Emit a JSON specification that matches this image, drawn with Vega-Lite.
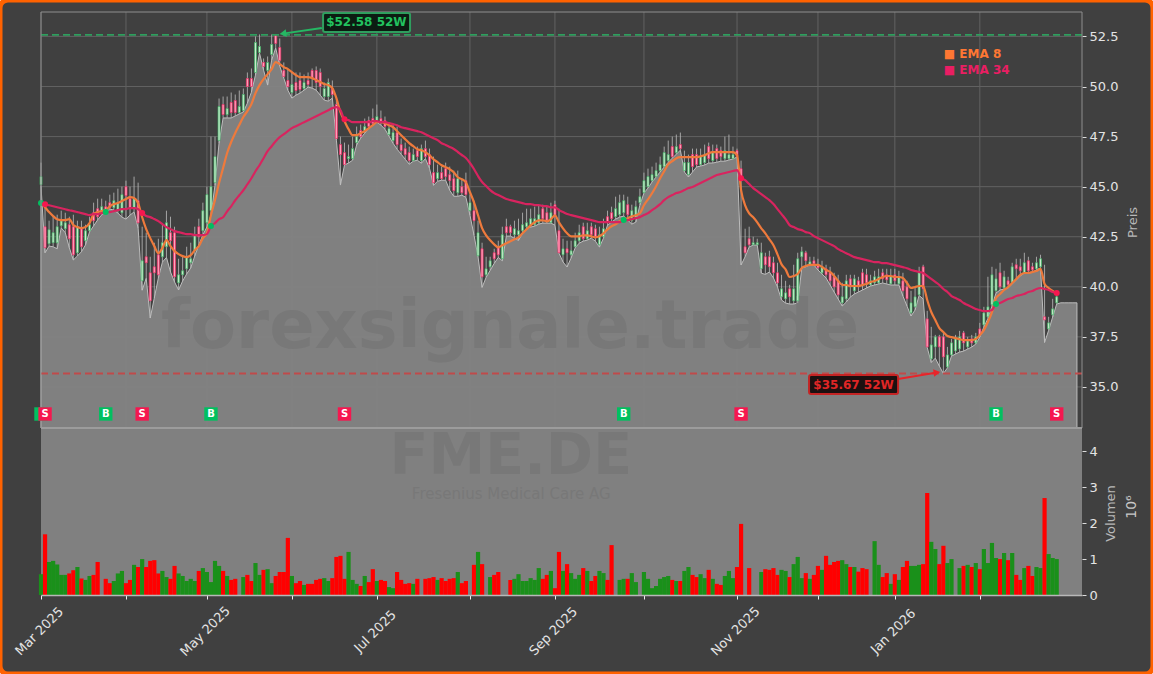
{
"$schema":"https://vega.github.io/schema/vega-lite/v6.json",
"width":1153,"height":674,"autosize":"none","padding":0,"background":"#ffffff",
"config":{"font":"DejaVu Sans","view":{"stroke":"#ff6200","strokeWidth":5,"fill":"#404040","cornerRadius":8}},
"datasets":{
"months":[{"i":0,"m":"Mar 2025"},{"i":21,"m":"Apr 2025"},{"i":41,"m":"May 2025"},{"i":62,"m":"Jun 2025"},{"i":83,"m":"Jul 2025"},{"i":106,"m":"Aug 2025"},{"i":127,"m":"Sep 2025"},{"i":149,"m":"Oct 2025"},{"i":172,"m":"Nov 2025"},{"i":192,"m":"Dec 2025"},{"i":211,"m":"Jan 2026"},{"i":232,"m":"Feb 2026"}],
"levels":[{"p":35,"i":0,"i2":257.25},{"p":37.5,"i":0,"i2":257.25},{"p":40,"i":0,"i2":257.25},{"p":42.5,"i":0,"i2":257.25},{"p":45,"i":0,"i2":257.25},{"p":47.5,"i":0,"i2":257.25},{"p":50,"i":0,"i2":257.25},{"p":52.5,"i":0,"i2":257.25}],
"bars":[
{"i":0,"o":45.1,"h":46.2,"l":45.03,"c":45.5,"v":0.58,"e8":44.17,"e34":44.18,"sig":"B"},
{"i":1,"o":43,"h":44,"l":41.7,"c":41.95,"v":1.69,"e8":43.97,"e34":44.12,"sig":"S"},
{"i":2,"o":42.15,"h":43.3,"l":42.03,"c":42.85,"v":0.92,"e8":43.73,"e34":44.07},
{"i":3,"o":42.2,"h":43.5,"l":42,"c":42.7,"v":0.95,"e8":43.53,"e34":44.02},
{"i":4,"o":42.2,"h":43.6,"l":41.9,"c":43,"v":0.85,"e8":43.37,"e34":43.97},
{"i":5,"o":43.05,"h":43.8,"l":42.94,"c":43.3,"v":0.56,"e8":43.33,"e34":43.92},
{"i":6,"o":42.9,"h":43.7,"l":42.7,"c":43.2,"v":0.56,"e8":43.33,"e34":43.87},
{"i":7,"o":43.1,"h":43.5,"l":41.95,"c":42.4,"v":0.6,"e8":43.38,"e34":43.82},
{"i":8,"o":43,"h":43.6,"l":41.34,"c":41.6,"v":0.69,"e8":43.08,"e34":43.78},
{"i":9,"o":41.7,"h":43.3,"l":41.54,"c":43,"v":0.78,"e8":42.98,"e34":43.73},
{"i":10,"o":42.9,"h":43.3,"l":41.75,"c":42,"v":0.46,"e8":42.93,"e34":43.68},
{"i":11,"o":42.3,"h":43.1,"l":42.09,"c":42.8,"v":0.42,"e8":42.98,"e34":43.63},
{"i":12,"o":42.8,"h":43.5,"l":42.74,"c":43.1,"v":0.53,"e8":43.18,"e34":43.58},
{"i":13,"o":43.7,"h":44.2,"l":43.04,"c":43.3,"v":0.56,"e8":43.62,"e34":43.63},
{"i":14,"o":43.9,"h":44.4,"l":43.34,"c":43.5,"v":0.92,"e8":43.73,"e34":43.63},
{"i":15,"o":43.7,"h":44.4,"l":43.59,"c":44,"e8":43.78,"e34":43.68},
{"i":16,"o":44,"h":44.3,"l":43.74,"c":43.8,"v":0.45,"e8":43.83,"e34":43.73,"sig":"B"},
{"i":17,"o":44.2,"h":44.6,"l":43.88,"c":43.95,"v":0.33,"e8":44.02,"e34":43.73},
{"i":18,"o":43.95,"h":44.7,"l":43.83,"c":44.3,"v":0.39,"e8":44.13,"e34":43.78},
{"i":19,"o":43.8,"h":44.9,"l":43.68,"c":44.2,"v":0.6,"e8":44.18,"e34":43.83},
{"i":20,"o":43.7,"h":45,"l":43.48,"c":44.6,"v":0.67,"e8":44.28,"e34":43.88},
{"i":21,"o":45,"h":45.3,"l":43.38,"c":44.55,"v":0.33,"e8":44.38,"e34":43.88},
{"i":22,"o":44.4,"h":45,"l":43.58,"c":43.9,"v":0.42,"e8":44.48,"e34":43.93},
{"i":23,"o":43.9,"h":45.5,"l":43.74,"c":44.4,"v":0.84,"e8":44.43,"e34":43.93},
{"i":24,"o":44.3,"h":45.2,"l":42.94,"c":43.2,"v":0.78,"e8":44.18,"e34":43.88},
{"i":25,"o":40.3,"h":43,"l":39.83,"c":41.3,"v":1,"e8":43.47,"e34":43.68,"sig":"S"},
{"i":26,"o":41.5,"h":42.7,"l":40.43,"c":41.2,"v":0.78,"e8":42.88,"e34":43.53},
{"i":27,"o":40.7,"h":41.5,"l":38.44,"c":39.3,"v":0.95,"e8":42.43,"e34":43.48},
{"i":28,"o":41,"h":42.2,"l":39.44,"c":40.7,"v":0.97,"e8":42.03,"e34":43.38},
{"i":29,"o":41.6,"h":42.4,"l":40.44,"c":40.6,"v":0.6,"e8":41.68,"e34":43.28},
{"i":30,"o":41.5,"h":43.1,"l":41.23,"c":42.2,"v":0.67,"e8":41.93,"e34":43.13},
{"i":31,"o":42,"h":43.8,"l":41.47,"c":43.2,"v":0.5,"e8":42.33,"e34":42.98},
{"i":32,"o":42.7,"h":43.5,"l":40.74,"c":42.3,"v":0.45,"e8":42.03,"e34":42.88},
{"i":33,"o":42.7,"h":43,"l":40.24,"c":40.5,"v":0.81,"e8":41.78,"e34":42.78},
{"i":34,"o":40.2,"h":41.4,"l":39.84,"c":40.6,"v":0.6,"e8":41.63,"e34":42.73},
{"i":35,"o":40.6,"h":41.5,"l":40.29,"c":40.8,"v":0.53,"e8":41.53,"e34":42.68},
{"i":36,"o":40.9,"h":42,"l":40.64,"c":41.5,"v":0.39,"e8":41.48,"e34":42.63},
{"i":37,"o":41.2,"h":42.2,"l":40.94,"c":41.4,"v":0.45,"e8":41.58,"e34":42.63},
{"i":38,"o":41.8,"h":43,"l":41.54,"c":42.6,"v":0.39,"e8":41.83,"e34":42.58},
{"i":39,"o":43,"h":43.4,"l":42.09,"c":42.5,"v":0.67,"e8":42.03,"e34":42.58},
{"i":40,"o":42.8,"h":44.2,"l":42.59,"c":43.8,"v":0.75,"e8":42.43,"e34":42.58},
{"i":41,"o":43.2,"h":45,"l":42.99,"c":44.6,"v":0.64,"e8":42.68,"e34":42.63},
{"i":42,"o":43.8,"h":47.5,"l":43.57,"c":45,"v":0.36,"e8":43.58,"e34":43.03,"sig":"B"},
{"i":43,"o":45.2,"h":47.5,"l":45.08,"c":46.5,"v":0.95,"e8":44.33,"e34":43.18},
{"i":44,"o":47.3,"h":49.4,"l":47.18,"c":49,"v":0.81,"e8":45.18,"e34":43.38},
{"i":45,"o":49.1,"h":49.5,"l":48.43,"c":48.6,"v":0.67,"e8":45.93,"e34":43.47},
{"i":46,"o":48.6,"h":49.5,"l":48.43,"c":48.9,"v":0.53,"e8":46.68,"e34":43.77},
{"i":47,"o":49.2,"h":49.7,"l":48.43,"c":48.7,"v":0.42,"e8":47.23,"e34":44.02},
{"i":48,"o":49.3,"h":49.6,"l":48.53,"c":48.7,"v":0.45,"e8":47.68,"e34":44.32},
{"i":49,"o":48.7,"h":49.8,"l":48.63,"c":49,"e8":48.08,"e34":44.57},
{"i":50,"o":48.8,"h":49.9,"l":48.73,"c":49.6,"v":0.5,"e8":48.48,"e34":44.82},
{"i":51,"o":50.4,"h":50.7,"l":49.17,"c":50,"v":0.56,"e8":48.77,"e34":45.12},
{"i":52,"o":50.4,"h":50.9,"l":49.72,"c":50,"v":0.39,"e8":49.12,"e34":45.42},
{"i":53,"o":50.7,"h":52.5,"l":50.57,"c":52.2,"v":0.89,"e8":49.67,"e34":45.77},
{"i":54,"o":51.7,"h":52.6,"l":51.67,"c":52,"v":0.56,"e8":50.07,"e34":46.07},
{"i":55,"o":51.2,"h":51.4,"l":50.82,"c":51,"v":0.7,"e8":50.37,"e34":46.42},
{"i":56,"o":50.8,"h":51.5,"l":50.07,"c":51.2,"v":0.72,"e8":50.62,"e34":46.77},
{"i":57,"o":51.6,"h":52.6,"l":51.32,"c":52.1,"v":0.33,"e8":50.87,"e34":47.02},
{"i":58,"o":52.55,"h":52.58,"l":51.92,"c":52.15,"v":0.53,"e8":51.22,"e34":47.27},
{"i":59,"o":51.95,"h":52.4,"l":51.02,"c":51.3,"v":0.64,"e8":51.12,"e34":47.47},
{"i":60,"o":50.8,"h":51.2,"l":50.42,"c":50.5,"v":0.64,"e8":50.97,"e34":47.62},
{"i":61,"o":50.3,"h":50.9,"l":49.82,"c":50,"v":1.59,"e8":50.87,"e34":47.77},
{"i":62,"o":49.7,"h":50.7,"l":49.42,"c":50.1,"v":0.53,"e8":50.72,"e34":47.92},
{"i":63,"o":50.2,"h":50.7,"l":49.57,"c":49.8,"v":0.33,"e8":50.57,"e34":48.02},
{"i":64,"o":50.3,"h":50.7,"l":49.67,"c":49.85,"v":0.39,"e8":50.47,"e34":48.12},
{"i":65,"o":49.9,"h":50.6,"l":49.82,"c":50.2,"v":0.28,"e8":50.47,"e34":48.22},
{"i":66,"o":50.3,"h":50.7,"l":49.97,"c":50.1,"v":0.31,"e8":50.47,"e34":48.32},
{"i":67,"o":50.8,"h":50.9,"l":49.92,"c":50.4,"v":0.31,"e8":50.42,"e34":48.42},
{"i":68,"o":50.8,"h":51,"l":49.82,"c":50.2,"v":0.42,"e8":50.32,"e34":48.52},
{"i":69,"o":50.7,"h":50.9,"l":49.57,"c":50,"v":0.45,"e8":50.22,"e34":48.62},
{"i":70,"o":49.5,"h":50.2,"l":49.32,"c":49.9,"v":0.47,"e8":50.12,"e34":48.72},
{"i":71,"o":49.5,"h":50.4,"l":49.27,"c":50.2,"v":0.39,"e8":50.07,"e34":48.82},
{"i":72,"o":49.9,"h":50.3,"l":49.42,"c":49.6,"v":0.47,"e8":49.92,"e34":48.92},
{"i":73,"o":49.1,"h":49.5,"l":47.32,"c":47.4,"v":1.06,"e8":49.42,"e34":48.97},
{"i":74,"o":47.1,"h":47.5,"l":45.08,"c":46.6,"v":1.09,"e8":48.72,"e34":48.82},
{"i":75,"o":46.7,"h":47.2,"l":46.08,"c":46.1,"v":0.45,"e8":48.27,"e34":48.37,"sig":"S"},
{"i":76,"o":46.4,"h":47.1,"l":46.18,"c":46.5,"v":1.2,"e8":47.87,"e34":48.32},
{"i":77,"o":46.4,"h":47.5,"l":46.32,"c":46.9,"v":0.42,"e8":47.57,"e34":48.22},
{"i":78,"o":47.2,"h":48,"l":47.08,"c":47.5,"v":0.31,"e8":47.57,"e34":48.22},
{"i":79,"o":47.8,"h":48.1,"l":47.42,"c":47.5,"v":0.25,"e8":47.67,"e34":48.22},
{"i":80,"o":47.8,"h":48.4,"l":47.67,"c":48,"v":0.53,"e8":47.77,"e34":48.22},
{"i":81,"o":48.3,"h":48.5,"l":47.92,"c":48,"v":0.36,"e8":47.92,"e34":48.22},
{"i":82,"o":48.4,"h":48.9,"l":48.07,"c":48.15,"v":0.72,"e8":48.07,"e34":48.27},
{"i":83,"o":48.3,"h":49.1,"l":48.22,"c":48.5,"v":0.39,"e8":48.22,"e34":48.27},
{"i":84,"o":48.4,"h":48.8,"l":48.07,"c":48.2,"v":0.42,"e8":48.22,"e34":48.22},
{"i":85,"o":48.3,"h":48.5,"l":47.87,"c":48,"v":0.39,"e8":48.17,"e34":48.22},
{"i":86,"o":47.6,"h":48.2,"l":47.52,"c":47.9,"v":0.22,"e8":48.07,"e34":48.17},
{"i":87,"o":47.3,"h":48.1,"l":47.17,"c":47.7,"v":0.19,"e8":47.97,"e34":48.12},
{"i":88,"o":47.7,"h":48,"l":46.87,"c":47.1,"v":0.64,"e8":47.77,"e34":48.07},
{"i":89,"o":47.1,"h":47.4,"l":46.62,"c":46.8,"v":0.42,"e8":47.57,"e34":47.97},
{"i":90,"o":46.9,"h":47.2,"l":46.37,"c":46.6,"v":0.31,"e8":47.37,"e34":47.92},
{"i":91,"o":46.7,"h":47,"l":46.12,"c":46.3,"v":0.33,"e8":47.17,"e34":47.87},
{"i":92,"o":46.3,"h":46.9,"l":46.27,"c":46.6,"v":0.31,"e8":47.02,"e34":47.82},
{"i":93,"o":46.8,"h":47,"l":46.32,"c":46.5,"v":0.45,"e8":46.87,"e34":47.77},
{"i":94,"o":46.3,"h":47.1,"l":46.17,"c":46.9,"e8":46.82,"e34":47.72},
{"i":95,"o":46.9,"h":47.3,"l":46.4,"c":46.5,"v":0.45,"e8":46.72,"e34":47.62},
{"i":96,"o":46.6,"h":46.9,"l":45.92,"c":46.1,"v":0.47,"e8":46.57,"e34":47.52},
{"i":97,"o":45.7,"h":46.5,"l":45.07,"c":45.2,"v":0.5,"e8":46.37,"e34":47.42},
{"i":98,"o":45.4,"h":46.1,"l":45.27,"c":45.7,"v":0.42,"e8":46.22,"e34":47.32},
{"i":99,"o":45.7,"h":46,"l":45.32,"c":45.4,"v":0.47,"e8":46.07,"e34":47.17},
{"i":100,"o":45.9,"h":46.2,"l":45.32,"c":45.5,"v":0.39,"e8":45.97,"e34":47.08},
{"i":101,"o":45.6,"h":46,"l":44.82,"c":45.3,"v":0.45,"e8":45.87,"e34":46.98},
{"i":102,"o":45.4,"h":45.8,"l":44.52,"c":44.8,"v":0.47,"e8":45.72,"e34":46.88},
{"i":103,"o":44.7,"h":45.8,"l":44.52,"c":45.4,"v":0.64,"e8":45.47,"e34":46.73},
{"i":104,"o":45,"h":45.4,"l":44.57,"c":44.7,"v":0.33,"e8":45.37,"e34":46.58},
{"i":105,"o":45.3,"h":45.7,"l":44.47,"c":44.6,"v":0.39,"e8":45.22,"e34":46.43},
{"i":106,"o":43.8,"h":44.6,"l":43.58,"c":44.2,"e8":44.72,"e34":46.18},
{"i":107,"o":43.8,"h":44.3,"l":42.58,"c":43.3,"v":0.84,"e8":44.22,"e34":45.88},
{"i":108,"o":41.55,"h":43.3,"l":41.5,"c":42.7,"v":1.2,"e8":43.57,"e34":45.53},
{"i":109,"o":41.9,"h":42.2,"l":39.97,"c":40.5,"v":0.86,"e8":42.93,"e34":45.23},
{"i":110,"o":40.6,"h":41.5,"l":40.47,"c":40.9,"e8":42.57,"e34":45.03},
{"i":111,"o":41,"h":41.5,"l":40.82,"c":41.3,"v":0.5,"e8":42.32,"e34":44.83},
{"i":112,"o":41.7,"h":41.9,"l":41.17,"c":41.4,"v":0.56,"e8":42.12,"e34":44.68},
{"i":113,"o":42,"h":42.3,"l":41.47,"c":41.6,"v":0.64,"e8":41.97,"e34":44.58},
{"i":114,"o":41.4,"h":43,"l":41.3,"c":42.6,"e8":42.07,"e34":44.48},
{"i":115,"o":43,"h":43.4,"l":42.53,"c":42.7,"e8":42.17,"e34":44.38},
{"i":116,"o":43,"h":43.1,"l":42.53,"c":42.7,"v":0.42,"e8":42.27,"e34":44.33},
{"i":117,"o":42.6,"h":43.3,"l":42.42,"c":42.9,"v":0.45,"e8":42.37,"e34":44.28},
{"i":118,"o":42.6,"h":43.4,"l":42.32,"c":42.8,"v":0.58,"e8":42.47,"e34":44.23},
{"i":119,"o":42.8,"h":43.7,"l":42.67,"c":43.1,"v":0.39,"e8":42.67,"e34":44.18},
{"i":120,"o":43,"h":43.9,"l":42.93,"c":43.2,"v":0.39,"e8":42.87,"e34":44.13},
{"i":121,"o":43.1,"h":43.9,"l":42.98,"c":43.4,"v":0.47,"e8":43.07,"e34":44.13},
{"i":122,"o":43.1,"h":44,"l":43.03,"c":43.4,"v":0.42,"e8":43.22,"e34":44.08},
{"i":123,"o":43.2,"h":44.1,"l":43.13,"c":43.6,"v":0.75,"e8":43.32,"e34":44.08},
{"i":124,"o":43.9,"h":44.1,"l":43.18,"c":43.4,"v":0.45,"e8":43.32,"e34":44.03},
{"i":125,"o":43.7,"h":44,"l":43.18,"c":43.3,"v":0.56,"e8":43.27,"e34":44.03},
{"i":126,"o":43.2,"h":44.2,"l":43.18,"c":43.7,"v":0.67,"e8":43.37,"e34":43.97},
{"i":127,"o":44.1,"h":44.3,"l":43.08,"c":43.5,"v":0.19,"e8":43.57,"e34":43.97},
{"i":128,"o":42.8,"h":43.9,"l":41.68,"c":41.7,"v":1.2,"e8":43.22,"e34":43.83},
{"i":129,"o":41.6,"h":42.4,"l":41.24,"c":41.9,"v":0.67,"e8":42.92,"e34":43.73},
{"i":130,"o":41.9,"h":42.3,"l":40.99,"c":41.7,"v":0.86,"e8":42.67,"e34":43.63},
{"i":131,"o":41.6,"h":42.3,"l":41.44,"c":41.8,"v":0.61,"e8":42.52,"e34":43.58},
{"i":132,"o":42,"h":42.7,"l":41.94,"c":42.3,"v":0.45,"e8":42.52,"e34":43.53},
{"i":133,"o":42.3,"h":43.1,"l":42.18,"c":42.7,"v":0.56,"e8":42.52,"e34":43.48},
{"i":134,"o":43,"h":43.2,"l":42.28,"c":42.4,"v":0.75,"e8":42.57,"e34":43.43},
{"i":135,"o":42.4,"h":43.2,"l":42.33,"c":42.8,"v":0.67,"e8":42.57,"e34":43.38},
{"i":136,"o":43,"h":43.2,"l":42.43,"c":42.6,"v":0.39,"e8":42.52,"e34":43.33},
{"i":137,"o":42.9,"h":43.1,"l":42.28,"c":42.5,"v":0.53,"e8":42.47,"e34":43.28},
{"i":138,"o":42.1,"h":43,"l":41.98,"c":42.6,"v":0.67,"e8":42.52,"e34":43.23},
{"i":139,"o":42.5,"h":43.4,"l":42.43,"c":42.9,"v":0.61,"e8":42.67,"e34":43.23},
{"i":140,"o":43.5,"h":43.8,"l":43.08,"c":43.2,"v":0.42,"e8":42.87,"e34":43.23},
{"i":141,"o":43.7,"h":44,"l":43.23,"c":43.4,"v":1.39,"e8":43.02,"e34":43.23},
{"i":142,"o":43.5,"h":44.5,"l":43.38,"c":43.9,"e8":43.12,"e34":43.23},
{"i":143,"o":43.6,"h":44.6,"l":43.48,"c":44.2,"v":0.42,"e8":43.27,"e34":43.23},
{"i":144,"o":43.7,"h":44.6,"l":43.53,"c":44.3,"v":0.45,"e8":43.37,"e34":43.33,"sig":"B"},
{"i":145,"o":44.1,"h":44.5,"l":43.33,"c":43.6,"v":0.45,"e8":43.42,"e34":43.33},
{"i":146,"o":43.3,"h":44.1,"l":43.13,"c":43.8,"v":0.61,"e8":43.52,"e34":43.38},
{"i":147,"o":43.4,"h":44.3,"l":43.23,"c":44,"v":0.36,"e8":43.57,"e34":43.43},
{"i":148,"o":44.2,"h":44.9,"l":44.08,"c":44.5,"e8":43.67,"e34":43.48},
{"i":149,"o":44.7,"h":45.7,"l":44.68,"c":45.3,"v":0.64,"e8":44.07,"e34":43.58},
{"i":150,"o":45,"h":45.9,"l":44.93,"c":45.5,"v":0.45,"e8":44.37,"e34":43.68},
{"i":151,"o":45.3,"h":46,"l":45.23,"c":45.6,"v":0.19,"e8":44.67,"e34":43.83},
{"i":152,"o":45.5,"h":46.2,"l":45.48,"c":45.8,"v":0.25,"e8":45.02,"e34":43.97},
{"i":153,"o":45.8,"h":46.5,"l":45.73,"c":46.1,"v":0.45,"e8":45.42,"e34":44.13},
{"i":154,"o":46,"h":47,"l":45.98,"c":46.7,"v":0.5,"e8":45.77,"e34":44.33},
{"i":155,"o":46.3,"h":47.3,"l":46.22,"c":46.6,"v":0.53,"e8":46.12,"e34":44.48},
{"i":156,"o":47,"h":47.5,"l":46.42,"c":46.5,"v":0.42,"e8":46.27,"e34":44.58},
{"i":157,"o":46.7,"h":47.6,"l":46.62,"c":47,"v":0.39,"e8":46.42,"e34":44.68},
{"i":158,"o":47.1,"h":47.7,"l":46.82,"c":46.9,"v":0.39,"e8":46.47,"e34":44.73},
{"i":159,"o":45.8,"h":46.8,"l":45.73,"c":46.2,"v":0.67,"e8":46.47,"e34":44.83},
{"i":160,"o":45.6,"h":46.6,"l":45.48,"c":46.2,"v":0.78,"e8":46.47,"e34":44.93},
{"i":161,"o":46.6,"h":46.9,"l":45.73,"c":46,"v":0.56,"e8":46.47,"e34":44.98},
{"i":162,"o":46.6,"h":46.9,"l":45.98,"c":46.1,"v":0.5,"e8":46.47,"e34":45.08},
{"i":163,"o":46.1,"h":46.9,"l":46.03,"c":46.5,"v":0.58,"e8":46.52,"e34":45.18},
{"i":164,"o":46.2,"h":47.1,"l":46.08,"c":46.6,"v":0.47,"e8":46.57,"e34":45.28},
{"i":165,"o":47,"h":47.2,"l":46.18,"c":46.4,"v":0.7,"e8":46.67,"e34":45.38},
{"i":166,"o":46.3,"h":47.1,"l":46.18,"c":46.7,"v":0.45,"e8":46.72,"e34":45.48},
{"i":167,"o":46.9,"h":47.1,"l":46.22,"c":46.4,"v":0.31,"e8":46.72,"e34":45.58},
{"i":168,"o":46.8,"h":47,"l":46.27,"c":46.5,"v":0.28,"e8":46.72,"e34":45.63},
{"i":169,"o":46.4,"h":47.5,"l":46.27,"c":46.8,"v":0.53,"e8":46.72,"e34":45.68},
{"i":170,"o":46.4,"h":47.6,"l":46.33,"c":46.6,"v":0.67,"e8":46.72,"e34":45.73},
{"i":171,"o":46.4,"h":47,"l":46.38,"c":46.6,"v":0.47,"e8":46.72,"e34":45.78},
{"i":172,"o":46.8,"h":46.9,"l":46.48,"c":46.5,"v":0.78,"e8":46.57,"e34":45.83},
{"i":173,"o":45.9,"h":46.3,"l":41.09,"c":45.3,"v":1.98,"e8":44.83,"e34":45.42,"sig":"S"},
{"i":174,"o":42,"h":42.9,"l":41.5,"c":41.7,"e8":44.07,"e34":45.33},
{"i":175,"o":42.4,"h":43,"l":41.99,"c":42.1,"v":0.75,"e8":43.67,"e34":45.13},
{"i":176,"o":42.1,"h":42.5,"l":42.08,"c":42.2,"e8":43.47,"e34":44.93},
{"i":177,"o":42.1,"h":42.4,"l":42.08,"c":42.2,"e8":43.22,"e34":44.78},
{"i":178,"o":40.9,"h":42.2,"l":40.68,"c":41.7,"v":0.64,"e8":42.92,"e34":44.63},
{"i":179,"o":41.5,"h":41.7,"l":40.62,"c":41.1,"v":0.72,"e8":42.67,"e34":44.48},
{"i":180,"o":41.5,"h":41.8,"l":40.74,"c":41,"v":0.7,"e8":42.37,"e34":44.33},
{"i":181,"o":41.2,"h":41.5,"l":40.44,"c":40.7,"v":0.75,"e8":42.07,"e34":44.13},
{"i":182,"o":40.7,"h":41.2,"l":39.99,"c":40.2,"v":0.56,"e8":41.62,"e34":43.88},
{"i":183,"o":39.5,"h":40.6,"l":39.34,"c":39.9,"v":0.7,"e8":41.12,"e34":43.63},
{"i":184,"o":39.4,"h":40.3,"l":39.19,"c":39.7,"v":0.67,"e8":40.87,"e34":43.38},
{"i":185,"o":39.9,"h":40.1,"l":39.14,"c":39.5,"v":0.5,"e8":40.49,"e34":43.08},
{"i":186,"o":39.3,"h":41.1,"l":39.14,"c":39.9,"v":0.86,"e8":40.54,"e34":42.98},
{"i":187,"o":39.3,"h":41.7,"l":39.2,"c":41.4,"v":1.06,"e8":40.64,"e34":42.88},
{"i":188,"o":41.5,"h":42,"l":40.94,"c":41.75,"v":0.47,"e8":40.94,"e34":42.83},
{"i":189,"o":41.7,"h":41.8,"l":41,"c":41.3,"v":0.61,"e8":41.04,"e34":42.73},
{"i":190,"o":41.1,"h":41.5,"l":41.09,"c":41.25,"v":0.45,"e8":41.09,"e34":42.68},
{"i":191,"o":41.3,"h":41.5,"l":41.09,"c":41.15,"v":0.56,"e8":41.09,"e34":42.53},
{"i":192,"o":41.1,"h":41.4,"l":40.84,"c":40.95,"v":0.81,"e8":41.09,"e34":42.43},
{"i":193,"o":40.7,"h":41.3,"l":40.64,"c":41,"v":0.7,"e8":40.99,"e34":42.33},
{"i":194,"o":40.9,"h":41.1,"l":40.44,"c":40.6,"v":1.09,"e8":40.84,"e34":42.23},
{"i":195,"o":40.7,"h":41,"l":40.09,"c":40.3,"v":0.84,"e8":40.74,"e34":42.13},
{"i":196,"o":40.5,"h":40.7,"l":39.74,"c":40,"v":0.92,"e8":40.54,"e34":42.03},
{"i":197,"o":40.3,"h":40.6,"l":39.39,"c":39.6,"v":0.95,"e8":40.29,"e34":41.88},
{"i":198,"o":39.2,"h":40.2,"l":39.04,"c":39.5,"v":0.97,"e8":40.09,"e34":41.78},
{"i":199,"o":39.4,"h":40.6,"l":39.24,"c":40.3,"v":0.86,"e8":40.09,"e34":41.67},
{"i":200,"o":40.4,"h":40.6,"l":39.49,"c":40,"v":0.78,"e8":40.04,"e34":41.58},
{"i":201,"o":39.8,"h":40.6,"l":39.64,"c":40.4,"v":0.78,"e8":40.04,"e34":41.48},
{"i":202,"o":40.3,"h":40.5,"l":39.74,"c":40,"v":0.65,"e8":40.04,"e34":41.43},
{"i":203,"o":40.7,"h":40.9,"l":39.84,"c":40.1,"v":0.75,"e8":40.09,"e34":41.38},
{"i":204,"o":40.6,"h":40.9,"l":39.94,"c":40.2,"v":0.72,"e8":40.14,"e34":41.33},
{"i":205,"o":40.1,"h":40.6,"l":40.04,"c":40.3,"e8":40.24,"e34":41.28},
{"i":206,"o":40.2,"h":40.8,"l":40.09,"c":40.5,"v":1.5,"e8":40.29,"e34":41.23},
{"i":207,"o":40.2,"h":40.9,"l":40.14,"c":40.5,"v":0.84,"e8":40.39,"e34":41.23},
{"i":208,"o":40.7,"h":40.9,"l":40.19,"c":40.4,"v":0.5,"e8":40.49,"e34":41.18},
{"i":209,"o":40.6,"h":40.9,"l":40.14,"c":40.35,"v":0.61,"e8":40.54,"e34":41.18},
{"i":210,"o":40.15,"h":40.9,"l":40.09,"c":40.5,"v":0.31,"e8":40.54,"e34":41.13},
{"i":211,"o":40.6,"h":40.9,"l":40.09,"c":40.3,"v":0.58,"e8":40.49,"e34":41.08},
{"i":212,"o":40.15,"h":40.8,"l":40.09,"c":40.5,"v":0.42,"e8":40.49,"e34":41.03},
{"i":213,"o":40.3,"h":40.7,"l":39.54,"c":39.8,"v":0.78,"e8":40.44,"e34":40.98},
{"i":214,"o":40,"h":40.3,"l":39.04,"c":39.4,"v":0.95,"e8":40.19,"e34":40.93},
{"i":215,"o":38.7,"h":39.8,"l":38.54,"c":39.2,"v":0.81,"e8":39.94,"e34":40.84},
{"i":216,"o":39,"h":40,"l":38.84,"c":39.5,"v":0.81,"e8":39.99,"e34":40.79},
{"i":217,"o":39.6,"h":41,"l":39.57,"c":40.7,"v":0.84,"e8":40.04,"e34":40.74},
{"i":218,"o":41,"h":41.1,"l":39.39,"c":39.9,"v":0.86,"e8":40.04,"e34":40.69},
{"i":219,"o":38.4,"h":38.8,"l":36.97,"c":37,"v":2.84,"e8":39.34,"e34":40.54},
{"i":220,"o":36.4,"h":38,"l":36.22,"c":37.1,"v":1.48,"e8":38.74,"e34":40.39},
{"i":221,"o":37,"h":37.6,"l":36.44,"c":37.5,"v":1.28,"e8":38.34,"e34":40.24},
{"i":222,"o":37.5,"h":37.6,"l":36.04,"c":37,"v":0.86,"e8":37.94,"e34":40.09},
{"i":223,"o":37.5,"h":37.7,"l":35.67,"c":36.5,"v":1.37,"e8":37.74,"e34":39.89},
{"i":224,"o":36,"h":37,"l":35.95,"c":36.6,"v":0.89,"e8":37.54,"e34":39.74},
{"i":225,"o":36.6,"h":37.4,"l":36.54,"c":37.2,"v":1,"e8":37.49,"e34":39.54},
{"i":226,"o":36.8,"h":37.6,"l":36.64,"c":37.4,"e8":37.44,"e34":39.44},
{"i":227,"o":36.9,"h":37.8,"l":36.74,"c":37.5,"v":0.75,"e8":37.39,"e34":39.34},
{"i":228,"o":37.7,"h":37.8,"l":36.79,"c":37.2,"v":0.81,"e8":37.34,"e34":39.19},
{"i":229,"o":37,"h":37.5,"l":36.89,"c":37.3,"v":0.84,"e8":37.34,"e34":39.09},
{"i":230,"o":37.4,"h":37.6,"l":36.99,"c":37.2,"v":0.78,"e8":37.34,"e34":38.99},
{"i":231,"o":37.2,"h":37.7,"l":37.14,"c":37.5,"v":0.89,"e8":37.39,"e34":38.89},
{"i":232,"o":37.9,"h":38.2,"l":37.49,"c":37.6,"v":0.72,"e8":37.59,"e34":38.84},
{"i":233,"o":38.1,"h":39,"l":37.99,"c":38.7,"v":1.28,"e8":37.84,"e34":38.79},
{"i":234,"o":38.5,"h":40.5,"l":38.42,"c":39,"v":0.89,"e8":38.24,"e34":38.79},
{"i":235,"o":39.1,"h":41,"l":39.04,"c":40.6,"v":1.45,"e8":38.74,"e34":38.84},
{"i":236,"o":39.8,"h":40.9,"l":39.69,"c":40.4,"v":1.03,"e8":39.44,"e34":39.14,"sig":"B"},
{"i":237,"o":40.7,"h":41.2,"l":39.84,"c":40,"v":1,"e8":39.64,"e34":39.19},
{"i":238,"o":39.95,"h":40.8,"l":39.89,"c":40.5,"v":1.17,"e8":39.84,"e34":39.29},
{"i":239,"o":40.3,"h":40.5,"l":39.94,"c":40.1,"v":0.97,"e8":39.99,"e34":39.39},
{"i":240,"o":40.2,"h":41.2,"l":40.14,"c":41,"v":1.17,"e8":40.19,"e34":39.44},
{"i":241,"o":41.1,"h":41.4,"l":40.34,"c":40.9,"v":0.56,"e8":40.39,"e34":39.54},
{"i":242,"o":41,"h":41.4,"l":40.54,"c":40.8,"v":0.42,"e8":40.59,"e34":39.59},
{"i":243,"o":40.7,"h":41.7,"l":40.69,"c":41.2,"v":0.75,"e8":40.69,"e34":39.64},
{"i":244,"o":41.3,"h":41.5,"l":40.69,"c":40.8,"v":0.81,"e8":40.69,"e34":39.74},
{"i":245,"o":41,"h":41.2,"l":40.74,"c":40.85,"v":0.53,"e8":40.74,"e34":39.79},
{"i":246,"o":40.9,"h":41.5,"l":40.84,"c":41.2,"v":0.78,"e8":40.79,"e34":39.89},
{"i":247,"o":41,"h":41.6,"l":40.94,"c":41.4,"v":0.75,"e8":40.89,"e34":39.94},
{"i":248,"o":38.5,"h":41.1,"l":37.22,"c":38.35,"v":2.7,"e8":40.14,"e34":39.89},
{"i":249,"o":37.9,"h":38.5,"l":37.82,"c":38.2,"v":1.14,"e8":39.94,"e34":39.84},
{"i":250,"o":38.6,"h":39.4,"l":38.49,"c":38.9,"v":1.03,"e8":39.79,"e34":39.74},
{"i":251,"o":39.2,"h":39.8,"l":39.14,"c":39.5,"v":1,"e8":39.69,"e34":39.69,"sig":"S"},
{"i":252,"l":39.2},{"i":253,"l":39.2},{"i":254,"l":39.2},{"i":255,"l":39.2},{"i":256,"l":39.2}
]},
"encoding":{"x":{"field":"i","type":"quantitative","title":null,
"scale":{"domain":[0,257.25],"range":[41,1082],"nice":false,"zero":false,"padding":0},
"axis":{"orient":"bottom","offset":-79,"zindex":1,"grid":false,"title":null,"values":[0,21,41,62,83,106,127,149,172,192,211,232],
"labelExpr":"datum.value==0?'Mar 2025':datum.value==41?'May 2025':datum.value==83?'Jul 2025':datum.value==127?'Sep 2025':datum.value==172?'Nov 2025':datum.value==211?'Jan 2026':''",
"labelAngle":-45,"labelAlign":"center","labelBaseline":"middle","labelPadding":32,"labelOffset":-2,"labelFontSize":13,"labelColor":"#e4e4e4","labelOverlap":false,"labelBound":false,"labelFlush":false,
"tickColor":"#eeeeee","tickSize":4,"domainColor":"#b8b8b8","domainWidth":1.5}}},
"resolve":{"scale":{"y":"independent"},"axis":{"y":"independent"}},
"layer":[
{"layer":[
{"data":{"name":"levels"},"mark":{"type":"rule","stroke":"#616161","strokeWidth":1},
"encoding":{"x2":{"field":"i2"},
"y":{"field":"p","type":"quantitative","scale":{"domain":[32.95,53.72],"range":[428,12],"nice":false,"zero":false},
"axis":{"orient":"right","offset":-71,"values":[35,37.5,40,42.5,45,47.5,50,52.5],"format":".1f","grid":false,"domain":false,"tickColor":"#dddddd","tickSize":4,"labelColor":"#e4e4e4","labelFontSize":13,"labelPadding":3,"title":"Preis","titleColor":"#b8b8b8","titleFontSize":13,"titleFontWeight":"normal","titleAngle":270,"titleX":57,"titleY":222}}}},
{"data":{"name":"months"},"mark":{"type":"rule","stroke":"#616161","strokeWidth":1},
"encoding":{"y":{"datum":32.95,"type":"quantitative"},"y2":{"datum":53.72}}},
{"data":{"name":"bars"},"mark":{"type":"area","fill":"#838383","fillOpacity":0.96,"stroke":"#bdbdbd","strokeWidth":1},
"encoding":{"y":{"field":"l","type":"quantitative"},"y2":{"datum":32.95}}},
{"data":{"values":[{"t":"forexsignale.trade","i":115.9}]},"mark":{"type":"text","fontSize":67,"fontWeight":"bold","fill":"#787878"},
"encoding":{"y":{"datum":37.95,"type":"quantitative"},"text":{"field":"t"}}},
{"data":{"name":"bars"},"transform":[{"filter":"isValid(datum.o)"}],"mark":{"type":"rule","stroke":"#bebebe","strokeWidth":0.8},
"encoding":{"y":{"field":"h","type":"quantitative"},"y2":{"field":"l"}}},
{"data":{"name":"bars"},"transform":[{"filter":"isValid(datum.o)"}],"mark":{"type":"bar","size":2,"strokeWidth":0.7,"orient":"vertical"},
"encoding":{"y":{"field":"o","type":"quantitative"},"y2":{"field":"c"},
"fill":{"condition":{"test":"datum.c>=datum.o","value":"#cdeccf"},"value":"#ffa9c0"},
"stroke":{"condition":{"test":"datum.c>=datum.o","value":"#3fb565"},"value":"#f02a64"}}},
{"data":{"name":"bars"},"mark":{"type":"line","stroke":"#ee7a3c","strokeWidth":2.2,"interpolate":"monotone"},
"encoding":{"y":{"field":"e8","type":"quantitative"}}},
{"data":{"name":"bars"},"mark":{"type":"line","stroke":"#d8245f","strokeWidth":2.2,"interpolate":"monotone"},
"encoding":{"y":{"field":"e34","type":"quantitative"}}},
{"data":{"name":"bars"},"transform":[{"filter":"isValid(datum.sig)"}],"mark":{"type":"circle","size":36,"opacity":1},
"encoding":{"y":{"field":"e34","type":"quantitative"},"color":{"condition":{"test":"datum.sig=='B'","value":"#00c060"},"value":"#f5174f"}}},
{"data":{"values":[{"p":52.58,"k":"hoch","i":0,"i2":257.25},{"p":35.67,"k":"tief","i":0,"i2":257.25}]},"mark":{"type":"rule","strokeWidth":1.8,"strokeDash":[7,4]},
"encoding":{"x2":{"field":"i2"},"y":{"field":"p","type":"quantitative"},
"color":{"field":"k","type":"nominal","legend":null,"scale":{"domain":["hoch","tief"],"range":["#2f9e5e","#c04a4a"]}}}},
{"data":{"values":[{"i":0,"i2":257.25}]},"mark":{"type":"rect","fill":"transparent","stroke":"#8e8e8e","strokeWidth":1},
"encoding":{"x2":{"field":"i2"},"y":{"datum":32.95,"type":"quantitative"},"y2":{"datum":53.72}}},
{"data":{"name":"bars"},"transform":[{"filter":"isValid(datum.sig)"}],"mark":{"type":"square","size":180,"opacity":1},
"encoding":{"y":{"datum":33.65,"type":"quantitative"},"color":{"condition":{"test":"datum.sig=='B'","value":"#00c060"},"value":"#f5174f"}}},
{"data":{"name":"bars"},"transform":[{"filter":"isValid(datum.sig)&&datum.i>0"}],"mark":{"type":"text","fontSize":10,"fontWeight":"bold","fill":"#ffffff"},
"encoding":{"y":{"datum":33.65,"type":"quantitative"},"text":{"field":"sig"}}},
{"data":{"values":[{"i":69.4,"b":52.92,"i2":59.8,"b2":52.64},{"i":211.8,"b":35.4,"i2":221.4,"b2":35.72}]},"mark":{"type":"rule","strokeWidth":2},
"encoding":{"x2":{"field":"i2"},"y":{"field":"b","type":"quantitative"},"y2":{"field":"b2"},
"color":{"condition":{"test":"datum.i<100","value":"#25b863"},"value":"#e8242a"}}},
{"data":{"values":[{"i":59.8,"b":52.64}]},"mark":{"type":"point","shape":"triangle-left","filled":true,"size":60,"angle":-8,"color":"#25b863","opacity":1},
"encoding":{"y":{"field":"b","type":"quantitative"}}},
{"data":{"values":[{"i":221.4,"b":35.72}]},"mark":{"type":"point","shape":"triangle-right","filled":true,"size":60,"angle":-8,"color":"#e8242a","opacity":1},
"encoding":{"y":{"field":"b","type":"quantitative"}}},
{"data":{"values":[{"i":69.7,"i2":91.2}]},"mark":{"type":"rect","fill":"#0c1c12","stroke":"#2f9e5e","strokeWidth":2,"cornerRadius":2},
"encoding":{"x2":{"field":"i2"},"y":{"datum":53.67,"type":"quantitative"},"y2":{"datum":52.72}}},
{"data":{"values":[{"t":"$52.58 52W","i":80.4}]},"mark":{"type":"text","fontSize":12,"fontWeight":"bold","fill":"#22c25f"},
"encoding":{"y":{"datum":53.2,"type":"quantitative"},"text":{"field":"t"}}},
{"data":{"values":[{"i":189.8,"i2":211.8}]},"mark":{"type":"rect","fill":"#1c1010","stroke":"#c42424","strokeWidth":2,"cornerRadius":2},
"encoding":{"x2":{"field":"i2"},"y":{"datum":35.6,"type":"quantitative"},"y2":{"datum":34.65}}},
{"data":{"values":[{"t":"$35.67 52W","i":200.8}]},"mark":{"type":"text","fontSize":12,"fontWeight":"bold","fill":"#e02626"},
"encoding":{"y":{"datum":35.12,"type":"quantitative"},"text":{"field":"t"}}},
{"data":{"values":[{"t":"■ EMA 8","p":51.63,"i":223.1},{"t":"■ EMA 34","p":50.83,"i":223.1}]},"mark":{"type":"text","align":"left","fontSize":12,"fontWeight":"bold"},
"encoding":{"y":{"field":"p","type":"quantitative"},"text":{"field":"t"},
"color":{"condition":{"test":"datum.p>51","value":"#ff7733"},"value":"#e91e63"}}}
]},
{"layer":[
{"data":{"values":[{"i":0,"i2":257.25}]},"mark":{"type":"rect","fill":"#808080"},
"encoding":{"x2":{"field":"i2"},
"y":{"datum":0,"type":"quantitative","scale":{"domain":[0,4.65],"range":[595,428],"nice":false,"zero":false},
"axis":{"orient":"right","offset":-71,"values":[0,1,2,3,4],"format":"d","grid":false,"domain":false,"tickColor":"#dddddd","tickSize":4,"labelColor":"#e4e4e4","labelFontSize":13,"labelPadding":3,"title":"Volumen","titleColor":"#b8b8b8","titleFontSize":13,"titleFontWeight":"normal","titleAngle":270,"titleX":35,"titleY":513}},
"y2":{"datum":4.65}}},
{"data":{"values":[{"t":"FME.DE","i":116.1}]},"mark":{"type":"text","fontSize":57,"fontWeight":"bold","fill":"#787878"},
"encoding":{"y":{"datum":3.83,"type":"quantitative"},"text":{"field":"t"}}},
{"data":{"values":[{"t":"Fresenius Medical Care AG","i":116.2}]},"mark":{"type":"text","fontSize":15,"fill":"#787878"},
"encoding":{"y":{"datum":2.8,"type":"quantitative"},"text":{"field":"t"}}},
{"data":{"name":"bars"},"transform":[{"filter":"isValid(datum.v)"}],"mark":{"type":"bar","size":4.2,"orient":"vertical"},
"encoding":{"y":{"field":"v","type":"quantitative"},
"color":{"condition":{"test":"datum.c>=datum.o","value":"#1a901a"},"value":"#ff0000"}}},
{"data":{"values":[{"i":0,"i2":257.25}]},"mark":{"type":"rule","stroke":"#9c9c9c","strokeWidth":2},
"encoding":{"x2":{"field":"i2"},"y":{"datum":4.65,"type":"quantitative"}}},
{"data":{"values":[{"t":"10⁶","i":269.6}]},"mark":{"type":"text","fontSize":14,"angle":270,"fill":"#c8c8c8"},
"encoding":{"y":{"datum":2.45,"type":"quantitative"},"text":{"field":"t"}}}
]}
]
}
